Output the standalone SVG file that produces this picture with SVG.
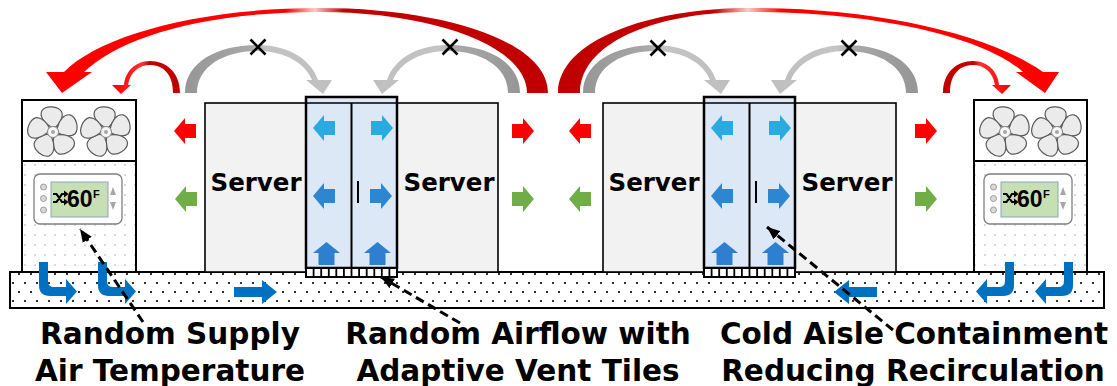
<svg xmlns="http://www.w3.org/2000/svg" width="1117" height="386" viewBox="0 0 1117 386">
<defs>
  <style>
    .box{stroke:#000;stroke-width:2}
    .srv{fill:#F2F2F2;stroke:#000;stroke-width:1.6}
    .cont{fill:#DCE8F5;stroke:#000;stroke-width:2.5}
    .lbl{font-family:"DejaVu Sans",Verdana,sans-serif;font-weight:bold;fill:#000}
    .srvtxt{font-size:24.5px;text-anchor:middle}
    .cap{font-size:29.5px;text-anchor:middle}
    .lead{fill:none;stroke:#000;stroke-width:3;stroke-dasharray:9 5}
    .blade{fill:#EBEBEB;stroke:#5A5A5A;stroke-width:1.2}
    .flow{fill:#0070C0}
    .hot{fill:#FF0000}
    .cool{fill:#70AD47}
    .xm{stroke:#000;stroke-width:2.6;fill:none}
  </style>

  <!-- fine grey dots inside the cooling units -->
  <pattern id="dotsLight" patternUnits="userSpaceOnUse" x="0" y="0" width="10" height="10">
    <rect width="10" height="10" fill="#fff"/>
    <circle cx="5" cy="5" r="0.9" fill="#C8C8C8"/>
  </pattern>
  <!-- staggered black dots of the raised floor plenum -->
  <pattern id="dotsFloor" patternUnits="userSpaceOnUse" x="10" y="281" width="24" height="18">
    <rect width="24" height="18" fill="#fff"/>
    <circle cx="3" cy="2" r="1.1" fill="#000"/>
    <circle cx="15" cy="2" r="1.1" fill="#000"/>
    <circle cx="9" cy="11" r="1.1" fill="#000"/>
    <circle cx="21" cy="11" r="1.1" fill="#000"/>
  </pattern>

  <linearGradient id="gBigL" gradientUnits="userSpaceOnUse" x1="548" y1="0" x2="62" y2="0">
    <stop offset="0" stop-color="#C00000"/>
    <stop offset="0.42" stop-color="#C40000"/>
    <stop offset="0.48" stop-color="#FFC8C8"/>
    <stop offset="0.54" stop-color="#FF0000"/>
    <stop offset="1" stop-color="#FF0000"/>
  </linearGradient>
  <linearGradient id="gBigR" gradientUnits="userSpaceOnUse" x1="558" y1="0" x2="1045" y2="0">
    <stop offset="0" stop-color="#C00000"/>
    <stop offset="0.32" stop-color="#C40000"/>
    <stop offset="0.39" stop-color="#FFC8C8"/>
    <stop offset="0.46" stop-color="#FF0000"/>
    <stop offset="1" stop-color="#FF0000"/>
  </linearGradient>
  <linearGradient id="gSmall" x1="1" y1="0" x2="0" y2="0">
    <stop offset="0" stop-color="#C00000"/>
    <stop offset="0.45" stop-color="#C40000"/>
    <stop offset="0.55" stop-color="#FF3030"/>
    <stop offset="1" stop-color="#FF0000"/>
  </linearGradient>
  <linearGradient id="gGray" x1="0" y1="0" x2="1" y2="0">
    <stop offset="0" stop-color="#969696"/>
    <stop offset="0.45" stop-color="#A8A8A8"/>
    <stop offset="0.55" stop-color="#C4C4C4"/>
    <stop offset="1" stop-color="#BFBFBF"/>
  </linearGradient>

  <!-- block arrow pointing left, tip at origin -->
  <path id="blk" d="M0,0 L11,-13 L11,-7 L22,-7 L22,7 L11,7 L11,13 Z"/>
  <!-- block arrow pointing up, tip at origin -->
  <path id="up" d="M0,0 L13.5,11 L8,11 L8,23 L-8,23 L-8,11 L-13.5,11 Z"/>
  <!-- supply air hook: down out of the unit, then along the plenum -->
  <path id="hook" d="M0,0 L9,0 L9,19 Q9,25 15,25 L27,25 L27,17 L38,29.5 L27,42 L27,34 L11,34 Q0,34 0,23 Z"/>
  <!-- recirculation arc with an X on top -->
  <path id="grayArc" fill="url(#gGray)" d="M185,93 C185,62 218,45 257,45 C292,45 312,62 318,80 L332,80 L323,94 L306,80 L312,80 C305,63 285,51 257,51 C225,51 197,66 197,93 Z"/>
  <path id="smallArc" fill="url(#gSmall)" d="M180,93 C180,72 166,61 150,61 C135,61 125,72 124,85 L112,85 L121,94 L131,85 L128,85 C130,72 139,65 150,65 C163,65 173,74 173,93 Z"/>

  <g id="fan">
    <g class="blade">
      <path id="bl" d="M-2,-5 C-9,-9 -14,-16 -11,-21.5 C-7,-27 5,-26 8.5,-20.5 C11,-15 6,-8 3,-5 Z"/>
      <use href="#bl" transform="rotate(72)"/>
      <use href="#bl" transform="rotate(144)"/>
      <use href="#bl" transform="rotate(216)"/>
      <use href="#bl" transform="rotate(288)"/>
    </g>
    <circle r="5.5" fill="#F7F7F7" stroke="#8A8A8A" stroke-width="1"/>
    <circle r="2" fill="#A6A6A6"/>
  </g>

  <!-- supply temperature controller -->
  <g id="stat">
    <rect x="0" y="0" width="88" height="50" rx="6" fill="#fff" stroke="#7F7F7F" stroke-width="1.3"/>
    <circle cx="9.5" cy="13" r="3" fill="#D9D9D9" stroke="#8C8C8C" stroke-width="0.8"/>
    <circle cx="9.5" cy="24.5" r="3" fill="#D9D9D9" stroke="#8C8C8C" stroke-width="0.8"/>
    <circle cx="9.5" cy="36" r="3" fill="#D9D9D9" stroke="#8C8C8C" stroke-width="0.8"/>
    <rect x="17" y="8" width="57" height="35" fill="#C6E0B4" stroke="#8FA3BF" stroke-width="1"/>
    <path d="M19,20 H22.5 L28,28 H31 M19,28 H22.5 L28,20 H31" fill="none" stroke="#000" stroke-width="2.2"/>
    <path d="M30,16.5 L34.5,20 L30,23.5 Z M30,24.5 L34.5,28 L30,31.5 Z" fill="#000"/>
    <text x="33" y="32.5" font-family="'Liberation Sans',Arial,sans-serif" font-weight="bold" font-size="23" fill="#000">60</text>
    <text x="59" y="24" font-family="'Liberation Sans',Arial,sans-serif" font-weight="bold" font-size="11" fill="#000">F</text>
    <path d="M79,13 L82,21 L76,21 Z M76,28 L82,28 L79,36 Z" fill="#A6A6A6"/>
  </g>

  <!-- two server racks around a contained cold aisle -->
  <g id="rack">
    <rect class="srv" x="205" y="103" width="293" height="169"/>
    <rect class="cont" x="306" y="97" width="91" height="171"/>
    <line x1="306" y1="103" x2="397" y2="103" stroke="#000" stroke-width="1.4"/>
    <line x1="351.5" y1="103" x2="351.5" y2="268" stroke="#000" stroke-width="2"/>
    <line x1="358" y1="181" x2="358" y2="203" stroke="#000" stroke-width="2"/>
    <use href="#blk" x="313" y="128" fill="#29ABE2"/>
    <use href="#blk" transform="translate(393,128) scale(-1,1)" fill="#29ABE2"/>
    <use href="#blk" x="313" y="196" fill="#2E86D1"/>
    <use href="#blk" transform="translate(392,196) scale(-1,1)" fill="#2E86D1"/>
    <use href="#up" x="326.5" y="242" fill="#2E7FD0"/>
    <use href="#up" x="377.5" y="242" fill="#2E7FD0"/>
    <!-- perforated vent tile -->
    <rect x="306" y="268" width="91" height="9" fill="#fff" stroke="#000" stroke-width="2"/>
    <path d="M313.6,268 V277 M321.2,268 V277 M328.8,268 V277 M336.3,268 V277 M343.9,268 V277 M351.5,268 V277 M359.1,268 V277 M366.7,268 V277 M374.3,268 V277 M381.8,268 V277 M389.4,268 V277" stroke="#000" stroke-width="1.8"/>
    <text class="lbl srvtxt" x="256" y="191">Server</text>
    <text class="lbl srvtxt" x="449" y="191">Server</text>
  </g>

  <marker id="ah" viewBox="0 0 12 10" refX="12" refY="5" markerWidth="13" markerHeight="11" markerUnits="userSpaceOnUse" orient="auto">
    <path d="M0,0 L12,5 L0,10 Z" fill="#000"/>
  </marker>
</defs>

<rect width="1117" height="386" fill="#fff"/>

<!-- raised floor plenum -->
<g id="floor">
  <rect x="10" y="272" width="1094" height="36" fill="url(#dotsFloor)" stroke="#000" stroke-width="2"/>
</g>

<!-- cooling unit, left -->
<g id="crac-left">
  <rect class="box" x="22" y="100" width="114" height="61" fill="#fff"/>
  <rect class="box" x="22" y="161" width="114" height="111" fill="url(#dotsLight)"/>
  <use href="#fan" x="53" y="132"/>
  <use href="#fan" x="106" y="132"/>
  <use href="#stat" x="34" y="174"/>
</g>

<!-- cooling unit, right -->
<g id="crac-right">
  <rect class="box" x="974" y="100" width="113" height="61" fill="#fff"/>
  <rect class="box" x="974" y="161" width="113" height="111" fill="url(#dotsLight)"/>
  <use href="#fan" x="1005" y="132"/>
  <use href="#fan" x="1057" y="132"/>
  <use href="#stat" x="984" y="174"/>
</g>

<g id="row-1">
  <use href="#rack"/>
</g>
<g id="row-2">
  <use href="#rack" transform="translate(398,0)"/>
</g>

<g id="connectors">
  <!-- hot air returning over the racks to the cooling units -->
  <path fill="url(#gBigL)" d="M548,93 C548,40 440,8 320,8 C200,8 100,35 64,72 L46,72 L62,93 L92,72 L84,72 C120,38 200,12 320,12 C430,12 527,45 527,93 Z"/>
  <path fill="url(#gBigR)" d="M558,93 C558,40 650,8 750,8 C880,8 990,35 1043,72 L1059,72 L1045,93 L1016,72 L1023,72 C985,38 880,12 750,12 C650,12 580,45 580,93 Z"/>
  <use href="#smallArc"/>
  <use href="#smallArc" transform="translate(1123,0) scale(-1,1)"/>

  <!-- blocked recirculation -->
  <use href="#grayArc"/>
  <use href="#grayArc" transform="translate(705,0) scale(-1,1)"/>
  <use href="#grayArc" transform="translate(398,0)"/>
  <use href="#grayArc" transform="translate(1103,0) scale(-1,1)"/>
  <path class="xm" d="M250.5,39.5 L265.5,54.5 M265.5,39.5 L250.5,54.5"/>
  <path class="xm" d="M442.5,39.5 L457.5,54.5 M457.5,39.5 L442.5,54.5"/>
  <path class="xm" d="M650.5,40.5 L665.5,55.5 M665.5,40.5 L650.5,55.5"/>
  <path class="xm" d="M841.5,40.5 L856.5,55.5 M856.5,40.5 L841.5,55.5"/>

  <!-- exhaust (red) and intake (green) at rack faces -->
  <use href="#blk" class="hot" x="174" y="131"/>
  <use href="#blk" class="hot" transform="translate(534,131) scale(-1,1)"/>
  <use href="#blk" class="hot" x="569" y="131"/>
  <use href="#blk" class="hot" transform="translate(937,131) scale(-1,1)"/>
  <use href="#blk" class="cool" x="175" y="199"/>
  <use href="#blk" class="cool" transform="translate(534,199) scale(-1,1)"/>
  <use href="#blk" class="cool" x="569" y="199"/>
  <use href="#blk" class="cool" transform="translate(937,199) scale(-1,1)"/>

  <!-- supply air in the plenum -->
  <use href="#hook" class="flow" x="39" y="262"/>
  <use href="#hook" class="flow" x="98" y="262"/>
  <use href="#hook" class="flow" transform="translate(1014,262) scale(-1,1)"/>
  <use href="#hook" class="flow" transform="translate(1073,262) scale(-1,1)"/>
  <path class="flow" d="M234,287 L262,287 L262,280 L277,292 L262,304 L262,297 L234,297 Z"/>
  <path class="flow" d="M877,287 L849,287 L849,280 L834,292 L849,304 L849,297 L877,297 Z"/>

  <!-- callout leaders -->
  <line class="lead" x1="143" y1="322" x2="80" y2="229" marker-end="url(#ah)"/>
  <line class="lead" x1="460" y1="323" x2="381" y2="277" marker-end="url(#ah)"/>
  <line class="lead" x1="893" y1="330" x2="767" y2="227" marker-end="url(#ah)"/>
</g>

<g id="captions">
  <text class="lbl cap" x="170" y="344">Random Supply</text>
  <text class="lbl cap" x="170" y="381">Air Temperature</text>
  <text class="lbl cap" x="518" y="344">Random Airflow with</text>
  <text class="lbl cap" x="518" y="381">Adaptive Vent Tiles</text>
  <text class="lbl cap" x="914" y="344">Cold Aisle Containment</text>
  <text class="lbl cap" x="913" y="381">Reducing Recirculation</text>
</g>
</svg>
